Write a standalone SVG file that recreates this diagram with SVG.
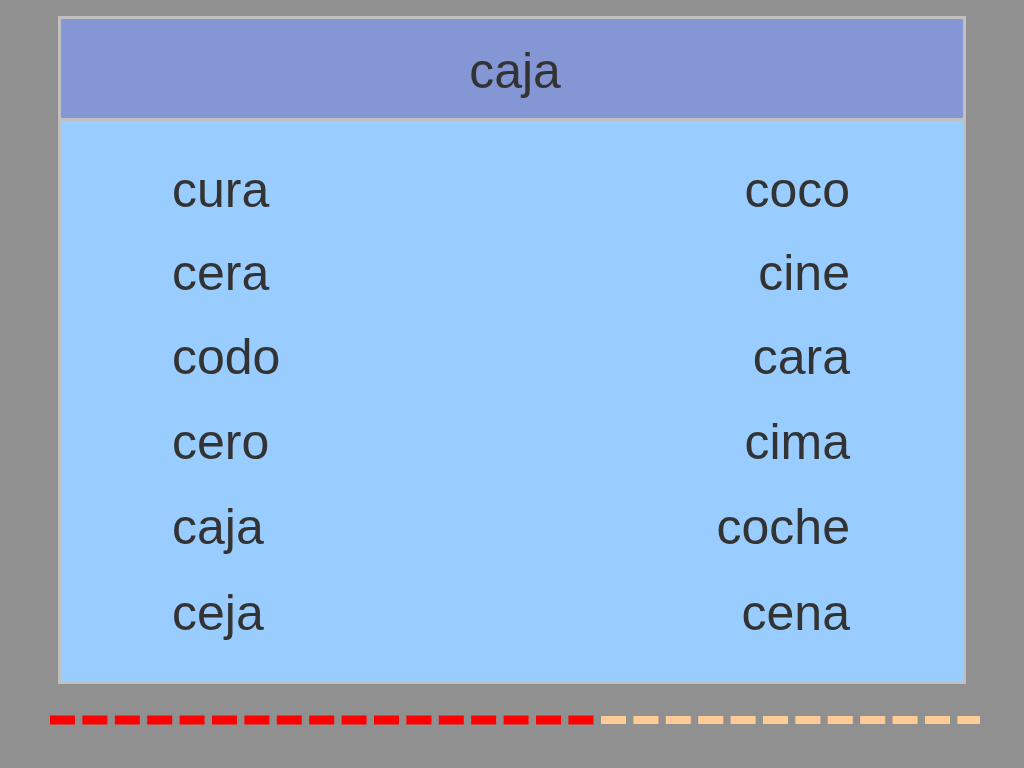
<svg xmlns="http://www.w3.org/2000/svg" width="1024" height="768" viewBox="0 0 1024 768">
<style>
text{font-family:"Liberation Sans",Arial,sans-serif;fill:#333;font-size:50px}
.r{text-anchor:end}
</style>
<rect width="1024" height="768" fill="#909090"/>
<g id="table">
<rect x="59.5" y="17.5" width="905" height="665" fill="#99ccff" stroke="#c0c0c0" stroke-width="3"/>
<rect x="61" y="19" width="902" height="99" fill="#8496d4"/>
<line x1="61" y1="119.5" x2="963" y2="119.5" stroke="#c0c0c0" stroke-width="3"/>
<text x="515" y="88" text-anchor="middle" font-size="58">caja</text>
<text x="172" y="207">cura</text>
<text x="172" y="290">cera</text>
<text x="172" y="374">codo</text>
<text x="172" y="459">cero</text>
<text x="172" y="544">caja</text>
<text x="172" y="630">ceja</text>
<text class="r" x="850" y="207">coco</text>
<text class="r" x="850" y="290">cine</text>
<text class="r" x="850" y="374">cara</text>
<text class="r" x="850" y="459">cima</text>
<text class="r" x="850" y="544">coche</text>
<text class="r" x="850" y="630">cena</text>
</g>
<g id="dashes">
<line x1="50" y1="720" x2="594" y2="720" stroke="#ff0000" stroke-width="9" stroke-dasharray="25 7.4"/>
<line x1="601" y1="720" x2="980" y2="720" stroke="#ffcc99" stroke-width="8" stroke-dasharray="25 7.4"/>
</g>
</svg>
